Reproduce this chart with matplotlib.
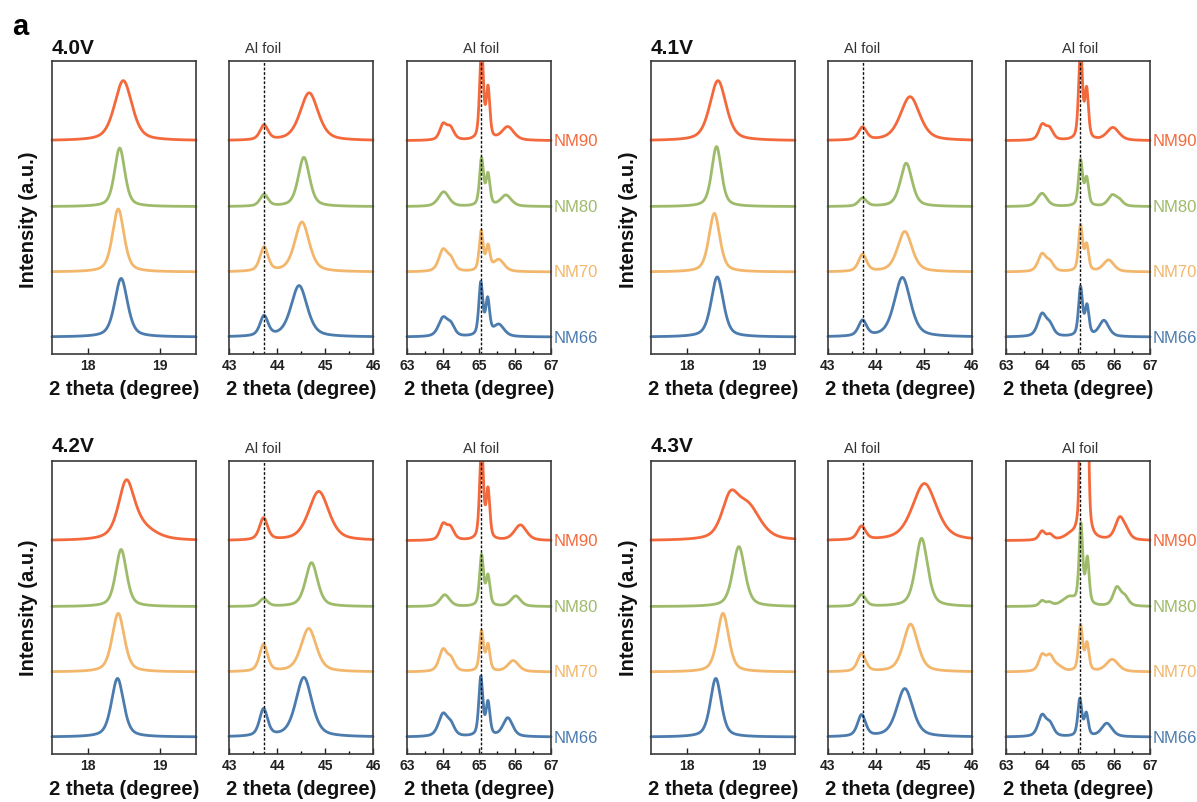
import numpy as np
import matplotlib.pyplot as plt
from matplotlib.patches import Rectangle

plt.rcParams['font.family'] = ['Liberation Sans', 'DejaVu Sans']

# samples drawn from bottom to top
samples = ['NM66', 'NM70', 'NM80', 'NM90']
colors = ['#4c7bad', '#f2b76c', '#9ebb6c', '#f4693b']
offsets = [0.058, 0.28, 0.503, 0.728]
voltages = ['4.0V', '4.1V', '4.2V', '4.3V']

windows = [(17.5, 19.5), (43, 46), (63, 67)]
tick_major = [[18, 19], [43, 44, 45, 46], [63, 64, 65, 66, 67]]
al_foil = [None, 43.72, 65.06]

# peaks: (2theta, height, fwhm), heights in panel fractions
# order in each list: NM66, NM70, NM80, NM90
v40_003 = [
    [(18.46, 0.200, 0.21)],
    [(18.42, 0.215, 0.19)],
    [(18.44, 0.200, 0.17)],
    [(18.49, 0.205, 0.29)],
]
v40_104 = [
    [(43.73, 0.068, 0.20), (44.46, 0.175, 0.40)],
    [(43.73, 0.082, 0.20), (44.52, 0.170, 0.36)],
    [(43.73, 0.040, 0.20), (44.56, 0.168, 0.28)],
    [(43.73, 0.050, 0.20), (44.67, 0.163, 0.45)],
]
v40_108 = [
    [(64.0, 0.062, 0.30), (64.22, 0.035, 0.25), (65.05, 0.18, 0.13), (65.24, 0.12, 0.13), (65.55, 0.040, 0.35)],
    [(64.0, 0.072, 0.28), (64.22, 0.038, 0.25), (65.06, 0.135, 0.13), (65.25, 0.08, 0.13), (65.55, 0.040, 0.35)],
    [(64.02, 0.050, 0.35), (65.07, 0.16, 0.13), (65.25, 0.105, 0.13), (65.75, 0.038, 0.35)],
    [(64.0, 0.050, 0.22), (64.2, 0.042, 0.25), (65.07, 0.32, 0.12), (65.25, 0.17, 0.12), (65.8, 0.046, 0.40)],
]

v41_003 = [
    [(18.42, 0.205, 0.20)],
    [(18.38, 0.200, 0.18)],
    [(18.41, 0.205, 0.16)],
    [(18.43, 0.205, 0.27)],
]
v41_104 = [
    [(43.72, 0.053, 0.20), (44.55, 0.203, 0.40)],
    [(43.72, 0.058, 0.20), (44.60, 0.138, 0.36)],
    [(43.72, 0.028, 0.20), (44.63, 0.148, 0.29)],
    [(43.72, 0.043, 0.20), (44.71, 0.150, 0.48)],
]
v41_108 = [
    [(64.0, 0.075, 0.28), (64.22, 0.035, 0.25), (65.07, 0.165, 0.13), (65.25, 0.10, 0.13), (65.72, 0.055, 0.32)],
    [(64.0, 0.058, 0.26), (64.22, 0.030, 0.25), (65.07, 0.155, 0.13), (65.24, 0.087, 0.13), (65.85, 0.040, 0.35)],
    [(64.0, 0.045, 0.32), (65.07, 0.155, 0.13), (65.24, 0.092, 0.13), (65.95, 0.036, 0.28), (66.15, 0.018, 0.25)],
    [(64.0, 0.048, 0.22), (64.2, 0.040, 0.25), (65.07, 0.32, 0.12), (65.24, 0.165, 0.12), (65.97, 0.044, 0.40)],
]

v42_003 = [
    [(18.41, 0.200, 0.20)],
    [(18.42, 0.200, 0.20)],
    [(18.46, 0.195, 0.18)],
    [(18.53, 0.170, 0.25), (18.68, 0.050, 0.50)],
]
v42_104 = [
    [(43.72, 0.092, 0.20), (44.56, 0.203, 0.40)],
    [(43.72, 0.092, 0.20), (44.66, 0.148, 0.38)],
    [(43.72, 0.026, 0.20), (44.72, 0.150, 0.30)],
    [(43.72, 0.075, 0.20), (44.87, 0.168, 0.50)],
]
v42_108 = [
    [(64.0, 0.075, 0.30), (64.22, 0.035, 0.25), (65.05, 0.20, 0.13), (65.25, 0.112, 0.13), (65.8, 0.064, 0.32)],
    [(64.0, 0.072, 0.26), (64.22, 0.040, 0.25), (65.07, 0.135, 0.13), (65.25, 0.088, 0.13), (65.95, 0.038, 0.36)],
    [(64.05, 0.040, 0.32), (65.07, 0.172, 0.13), (65.25, 0.10, 0.13), (66.02, 0.036, 0.32)],
    [(64.0, 0.050, 0.22), (64.2, 0.043, 0.25), (65.07, 0.33, 0.12), (65.25, 0.165, 0.12), (66.15, 0.053, 0.40)],
]

v43_003 = [
    [(18.40, 0.200, 0.18)],
    [(18.50, 0.200, 0.19)],
    [(18.72, 0.205, 0.20)],
    [(18.60, 0.130, 0.28), (18.85, 0.110, 0.40)],
]
v43_104 = [
    [(43.70, 0.073, 0.20), (44.60, 0.165, 0.40)],
    [(43.70, 0.061, 0.20), (44.72, 0.163, 0.36)],
    [(43.70, 0.040, 0.20), (44.95, 0.233, 0.30)],
    [(43.70, 0.046, 0.20), (45.01, 0.195, 0.60)],
]
v43_108 = [
    [(64.0, 0.070, 0.26), (64.22, 0.040, 0.25), (65.05, 0.126, 0.13), (65.23, 0.075, 0.13), (65.8, 0.046, 0.35)],
    [(64.0, 0.052, 0.22), (64.22, 0.050, 0.25), (64.45, 0.015, 0.3), (65.07, 0.155, 0.13), (65.25, 0.092, 0.13), (65.95, 0.042, 0.40)],
    [(64.0, 0.018, 0.18), (64.2, 0.012, 0.2), (64.75, 0.030, 0.45), (65.08, 0.27, 0.12), (65.26, 0.155, 0.12), (66.08, 0.062, 0.25), (66.3, 0.03, 0.25)],
    [(64.0, 0.030, 0.2), (64.22, 0.018, 0.2), (64.8, 0.015, 0.4), (65.1, 1.0, 0.09), (65.24, 1.0, 0.09), (66.16, 0.075, 0.30), (66.35, 0.02, 0.25)],
]

patterns = [
    [v40_003, v40_104, v40_108],
    [v41_003, v41_104, v41_108],
    [v42_003, v42_104, v42_108],
    [v43_003, v43_104, v43_108],
]


def profile(x, peaks):
    # pseudo-Voigt peaks, half gaussian / half lorentzian
    y = np.zeros_like(x)
    for c, h, w in peaks:
        u = (x - c) / w
        y += h * (0.5 * np.exp(-4 * np.log(2) * u**2) + 0.5 / (1 + 4 * u**2))
    return y


W, H = 1197, 803
fig = plt.figure(figsize=(W / 100, H / 100), dpi=100)

group_left = [52, 651]
panel_dx = [0, 177, 355]
row_bottom = [355, 755]
pw, ph = 144, 293
label_y = [220, 608]
volt_y = [48, 447]

fig.text(20 / W, 1 - 27 / H, 'a', fontsize=21, fontweight='bold', ha='center', va='center')

for k, volt in enumerate(voltages):
    row, col = k // 2, k % 2
    for j in range(3):
        left = group_left[col] + panel_dx[j]
        ax = fig.add_axes([left / W, 1 - row_bottom[row] / H, pw / W, ph / H])
        lo, hi = windows[j]
        span = hi - lo
        x = np.linspace(lo - 0.025 * span, hi + 0.025 * span, 1500)
        for i, name in enumerate(samples):
            y = offsets[i] + profile(x, patterns[k][j][i])
            line, = ax.plot(x, y, color=colors[i], lw=2.0, solid_capstyle='round')
            line.set_clip_path(Rectangle((-0.05, -0.05), 1.1, 1.05, transform=ax.transAxes))
            if j == 2:
                ax.text(1.02, offsets[i], name, transform=ax.transAxes, color=colors[i],
                        fontsize=12, va='center', ha='left')
        if al_foil[j] is not None:
            ax.axvline(al_foil[j], color='#111111', lw=1.0, ls=(0, (2, 1.3)))
            ax.annotate('Al foil', xy=(al_foil[j], 1 + 13 / ph),
                        xycoords=('data', 'axes fraction'), ha='center', va='center',
                        fontsize=10.5, color='#333333')
        ax.set_xlim(lo, hi)
        ax.set_ylim(0, 1)
        ax.set_yticks([])
        ax.set_xticks(tick_major[j])
        ax.set_xticks(np.arange(lo + 0.5, hi, 1.0), minor=True)
        ax.tick_params(axis='x', which='major', direction='in', length=4, width=1.0,
                       labelsize=10, pad=3, colors='#222222')
        ax.tick_params(axis='x', which='minor', direction='in', length=2.5, width=1.0)
        for lab in ax.get_xticklabels():
            lab.set_fontweight('bold')
        for s in ax.spines.values():
            s.set_linewidth(1.2)
            s.set_color('#3a3a3a')
        ax.text(0.5, -35 / ph, '2 theta (degree)', transform=ax.transAxes,
                ha='center', va='center', fontsize=14.5, fontweight='bold', color='#111111')
        if j == 0:
            ax.text(0, 1 + (row_bottom[row] - ph - volt_y[row]) / ph, volt,
                    transform=ax.transAxes, ha='left', va='center',
                    fontsize=15, fontweight='bold', color='#111111')
    xl = group_left[col] - 23
    fig.text(xl / W, 1 - label_y[row] / H, 'Intensity (a.u.)', rotation=90,
             ha='center', va='center', fontsize=14.5, fontweight='bold', color='#111111')

fig.savefig('out.png', dpi=100, facecolor='white')
